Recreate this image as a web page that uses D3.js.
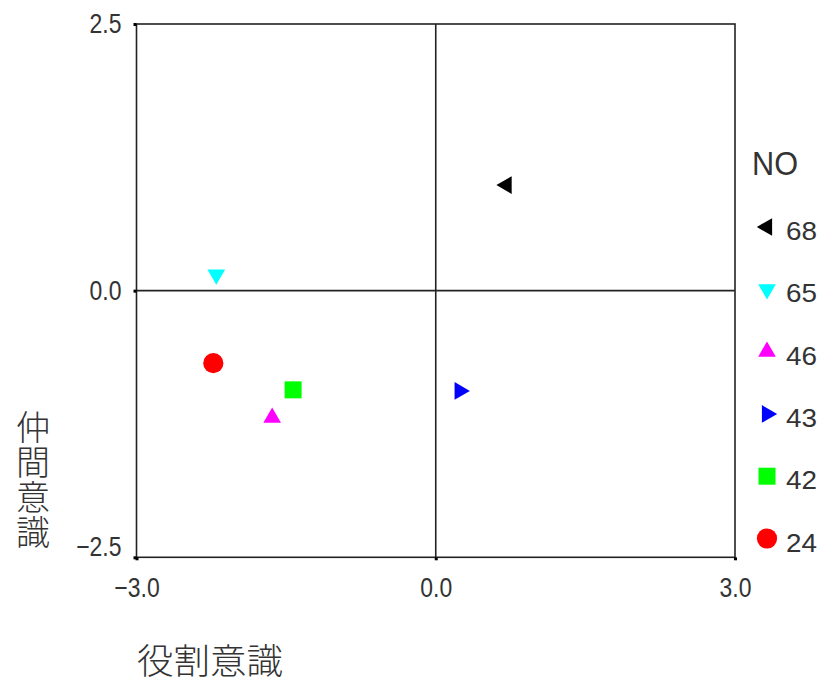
<!DOCTYPE html>
<html><head><meta charset="utf-8">
<script src="https://cdn.jsdelivr.net/npm/d3@7"></script>
<style>
body{margin:0;background:#fff;}
svg{display:block;}
</style></head><body>
<svg id="c" width="827" height="685"></svg>
<script>
const labels = ["68","65","46","43","42","24"];
const xValues = [0.71, -2.20, -1.64, 0.24, -1.43, -2.23];
const yValues = [0.99, 0.15, -1.19, -0.94, -0.93, -0.68];
const shapes = ["left","down","up","right","square","circle"];
const colors = ["#000000","#00ffff","#ff00ff","#0000ff","#00ff00","#ff0000"];
const xTicks = [-3, 0, 3];
const yTicks = [2.5, 0, -2.5];
const xTitle = "役割意識";
const yTitle = "仲間意識";
const legendTitle = "NO";

const svg = d3.select("#c");
const L = 136.5, R = 735, T = 24, B = 557.3;
const x = d3.scaleLinear().domain([-3,3]).range([L,R]);
const y = d3.scaleLinear().domain([-2.5,2.5]).range([B,T]);
const fmt = d3.format(".1f");
const numFont = "'Liberation Sans', Arial, sans-serif";
const lineCol = "#222";

// frame
svg.append("rect").attr("x",L).attr("y",T).attr("width",R-L).attr("height",B-T)
  .attr("fill","none").attr("stroke",lineCol).attr("stroke-width",1.6);
// zero lines
svg.append("line").attr("x1",x(0)).attr("x2",x(0)).attr("y1",T).attr("y2",B)
  .attr("stroke",lineCol).attr("stroke-width",1.6);
svg.append("line").attr("x1",L).attr("x2",R).attr("y1",y(0)).attr("y2",y(0))
  .attr("stroke",lineCol).attr("stroke-width",1.6);

// axes
const xa = svg.append("g").attr("transform",`translate(0,${B})`)
  .call(d3.axisBottom(x).tickValues(xTicks).tickFormat(fmt).tickSize(3).tickPadding(17));
const ya = svg.append("g").attr("transform",`translate(${L},0)`)
  .call(d3.axisLeft(y).tickValues(yTicks).tickFormat(fmt).tickSize(3).tickPadding(12));
[xa,ya].forEach(a=>{
  a.select(".domain").remove();
  a.selectAll(".tick line").attr("stroke","#000").attr("stroke-width",3);
  a.selectAll(".tick text").attr("fill","#333").style("font-family",numFont)
    .style("font-size","28px");
});
xa.selectAll(".tick text").attr("transform","scale(0.82,1)").attr("x",0).attr("dy","0.71em");
ya.selectAll(".tick text").each(function(d){
  const t = d3.select(this);
  const xx = +t.attr("x");
  t.attr("x", xx/0.82).attr("transform","scale(0.82,1)");
  if (d === -2.5) t.attr("dy","-0.05em");
});

// symbols
function sym(shape){
  if (shape==="circle") return {path:d3.symbol(d3.symbolCircle,320)(), rot:0};
  if (shape==="square") return {path:d3.symbol(d3.symbolSquare,289)(), rot:0};
  const rot = {up:0, down:180, left:-90, right:90}[shape];
  return {path:d3.symbol(d3.symbolTriangle,135)(), rot};
}
const data = labels.map((l,i)=>({l, x:xValues[i], y:yValues[i], s:shapes[i], c:colors[i]}));
svg.append("g").selectAll("path").data(data).join("path")
  .attr("d",d=>sym(d.s).path)
  .attr("transform",d=>`translate(${x(d.x)},${y(d.y)}) rotate(${sym(d.s).rot})`)
  .attr("fill",d=>d.c);

// legend
svg.append("text").attr("x",752).attr("y",175).text(legendTitle)
  .style("font-family",numFont).style("font-size","34px")
  .attr("fill","#333").attr("textLength",46).attr("lengthAdjust","spacingAndGlyphs");
const lg = svg.append("g").selectAll("g").data(data).join("g")
  .attr("transform",(d,i)=>`translate(767,${227 + i*62.3})`);
lg.append("path").attr("d",d=>sym(d.s).path)
  .attr("transform",d=>`rotate(${sym(d.s).rot})`).attr("fill",d=>d.c);
lg.append("text").attr("x",19).attr("y",13).text(d=>d.l)
  .style("font-family",numFont).style("font-size","25px").attr("fill","#333")
  .attr("textLength",31).attr("lengthAdjust","spacingAndGlyphs");

// titles
svg.append("text").attr("x",137).attr("y",674).text(xTitle)
  .style("font-family","'Noto Sans CJK JP', sans-serif").style("font-size","35px")
  .style("font-weight","300")
  .attr("fill","#333").attr("textLength",146).attr("lengthAdjust","spacingAndGlyphs");
svg.append("text").text(yTitle)
  .attr("x",33).attr("y",410)
  .style("writing-mode","vertical-rl").style("text-orientation","upright")
  .style("font-family","'Noto Sans CJK JP', sans-serif").style("font-size","34px")
  .style("font-weight","300").style("letter-spacing","1px")
  .attr("fill","#333");
</script></body></html>
